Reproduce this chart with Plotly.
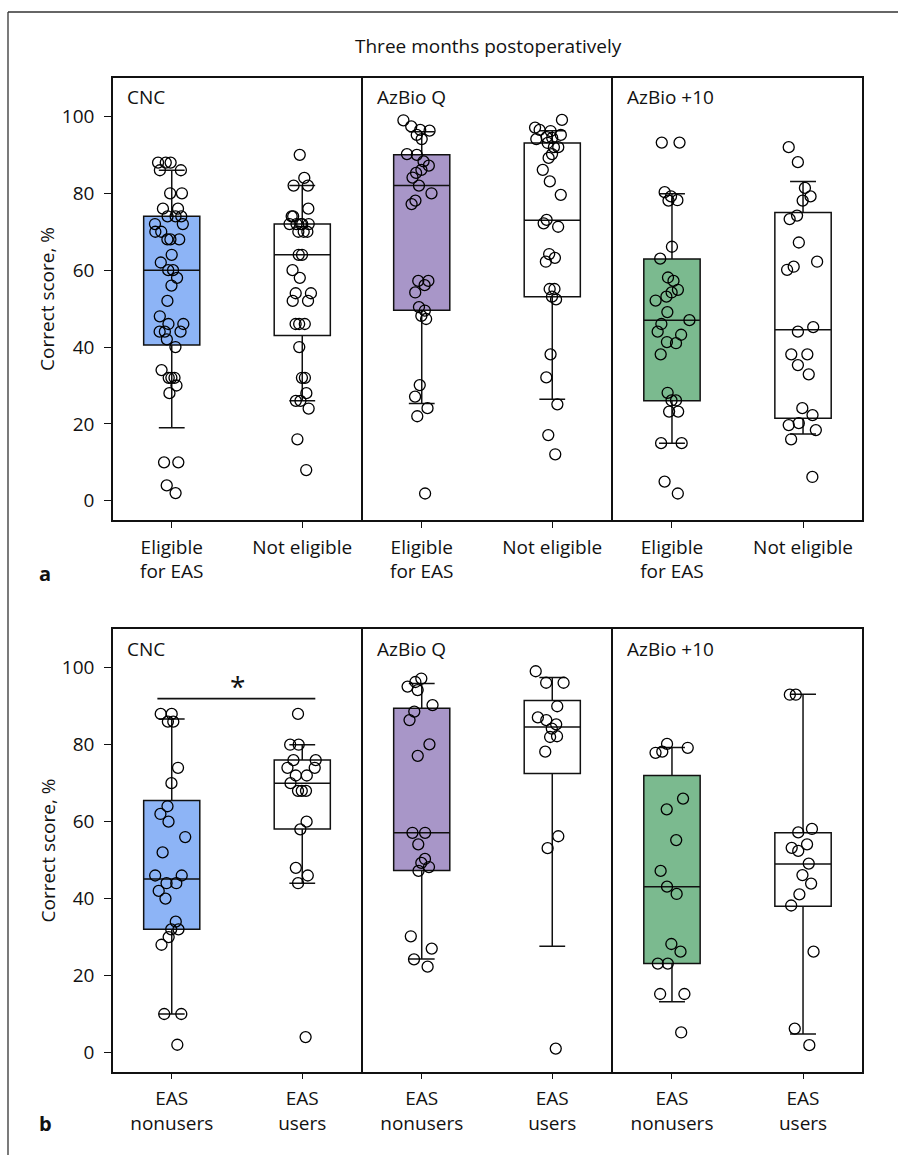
import plotly.graph_objects as go
from plotly.subplots import make_subplots

# ---------------- data ----------------
TITLE = "Three months postoperatively"
TESTS = ["CNC", "AzBio Q", "AzBio +10"]
CATS_A = ["Eligible<br>for EAS", "Not eligible"]
CATS_B = ["EAS<br>nonusers", "EAS<br>users"]
Y_TICKS = [0, 20, 40, 60, 80, 100]
Y_TITLE = "Correct score, %"
FILLS = ["#8DB4F6", "#A896C8", "#7BBA8F"]

# panel a: individual scores
a_cnc_elig = [88, 88, 88, 86, 86, 80, 80, 76, 76, 74, 74, 74, 72, 72, 70, 70, 68, 68, 68, 64,
              62, 60, 60, 58, 56, 52, 48, 46, 46, 44, 44, 42, 44, 40, 34, 32, 32, 32, 30, 28,
              10, 10, 4, 2]
a_cnc_not = [90, 84, 82, 82, 76, 74, 74, 72, 72, 72, 72, 72, 70, 70, 70, 64, 64, 60, 58, 54,
             54, 52, 52, 46, 46, 46, 40, 32, 32, 28, 26, 26, 24, 16, 8]
a_azq_elig = [99.0, 97.4, 96.5, 95.2, 96.3, 94.1, 90.2, 90.0, 88.3, 87.2, 86.1, 85.3, 84.1, 82.0,
              80.0, 77.2, 78.1, 56.1, 57.2, 57.2, 54.2, 50.4, 49.5, 48.1, 47.3, 30.1, 27.1, 24.1,
              22.0, 1.9]
a_azq_not = [99.1, 97.1, 96.5, 96.2, 95.2, 94.4, 94.6, 94.1, 92.0, 92.0, 93.1, 90.2, 89.2, 86.1,
             83.1, 79.6, 73.1, 72.2, 71.3, 64.2, 63.2, 62.2, 55.1, 55.1, 53.1, 52.4, 38.1, 32.1,
             25.1, 17.1, 12.1]
a_az10_elig = [93.2, 93.2, 79.2, 78.2, 80.3, 78.1, 66.1, 63.0, 58.1, 57.2, 54.9, 54.2, 53.1, 52.1,
               49.1, 47.0, 46.0, 43.2, 44.0, 41.3, 41.0, 38.1, 28.1, 26.1, 26.1, 23.2, 23.2, 15.0,
               15.0, 5.0, 1.9]
a_az10_not = [92.0, 88.1, 81.4, 79.2, 78.1, 74.2, 73.3, 67.2, 62.2, 60.9, 60.1, 45.2, 44.0, 38.1,
              38.1, 35.3, 32.9, 24.1, 22.3, 20.2, 19.7, 18.4, 16.0, 6.2]

# panel b: individual scores
b_cnc_non = [88, 88, 86, 86, 74, 70, 64, 62, 60, 56, 52, 46, 46, 44, 44, 42, 40, 34, 32, 32,
             30, 28, 10, 10, 2]
b_cnc_users = [88, 80, 80, 76, 76, 74, 74, 72, 72, 70, 68, 68, 68, 60, 58, 48, 46, 44, 4]
b_azq_non = [97.2, 95.1, 96.3, 94.2, 90.3, 88.6, 86.4, 80.1, 77.1, 57.1, 57.1, 54.1, 50.3, 49.3,
             48.2, 47.2, 30.2, 27.0, 24.2, 22.3]
b_azq_users = [99.1, 96.1, 96.1, 90.0, 87.1, 86.4, 85.3, 84.2, 82.2, 82.0, 78.2, 56.2, 53.1, 1.0]
b_az10_non = [79.2, 78.2, 80.2, 77.9, 66.0, 63.2, 55.2, 47.2, 43.1, 41.2, 28.2, 26.2, 23.1, 23.1,
              15.2, 15.2, 5.2]
b_az10_users = [93.0, 93.0, 58.1, 57.2, 54.1, 53.2, 52.4, 49.1, 46.1, 43.9, 41.1, 38.2, 26.2, 6.2, 1.9]

# box statistics: [lower whisker, q1, median, q3, upper whisker]
a_cnc_elig_stats = [19, 40.5, 60, 74, 86]
a_cnc_not_stats = [26, 43, 64, 72, 82]
a_azq_elig_stats = [25.3, 49.6, 82, 90, 96]
a_azq_not_stats = [26.4, 53.1, 73, 93.1, 96.3]
a_az10_elig_stats = [15, 26, 47, 62.9, 79.9]
a_az10_not_stats = [17.4, 21.5, 44.5, 75, 83.1]
b_cnc_non_stats = [10, 32, 45.1, 65.5, 86.7]
b_cnc_users_stats = [44, 58.1, 70, 76, 80]
b_azq_non_stats = [24.3, 47.3, 57.1, 89.5, 95.9]
b_azq_users_stats = [27.6, 72.5, 84.6, 91.5, 97.5]
b_az10_non_stats = [13.2, 23.1, 43.1, 72, 79.3]
b_az10_users_stats = [4.8, 38, 49, 57.1, 93.1]

SIG_LEVEL = 92      # y-value of the significance bar in panel b, CNC
SIG_TEXT = "*"

# ---------------- figure ----------------
W, H = 898, 1155
FONT = "Open Sans"
FS = 19
TXT = "#111111"
LINE = "#111111"

fig = make_subplots(rows=2, cols=3)

panels = [
    (1, CATS_A, [(a_cnc_elig, a_cnc_elig_stats, a_cnc_not, a_cnc_not_stats),
                 (a_azq_elig, a_azq_elig_stats, a_azq_not, a_azq_not_stats),
                 (a_az10_elig, a_az10_elig_stats, a_az10_not, a_az10_not_stats)]),
    (2, CATS_B, [(b_cnc_non, b_cnc_non_stats, b_cnc_users, b_cnc_users_stats),
                 (b_azq_non, b_azq_non_stats, b_azq_users, b_azq_users_stats),
                 (b_az10_non, b_az10_non_stats, b_az10_users, b_az10_users_stats)]),
]

def add_box(row, col, cat, pts, st, fill):
    fig.add_trace(go.Box(
        x=[cat], y=[pts],
        lowerfence=[st[0]], q1=[st[1]], median=[st[2]], q3=[st[3]], upperfence=[st[4]],
        fillcolor=fill,
        line=dict(color=LINE, width=1.5),
        width=0.43, whiskerwidth=0.46,
        boxpoints="all", jitter=0.7, pointpos=0,
        marker=dict(symbol="circle-open", size=11, color="black",
                    line=dict(width=1.3, color="black")),
        hoverinfo="skip", showlegend=False,
    ), row=row, col=col)

for row, cats, groups in panels:
    for col, (p1, s1, p2, s2) in enumerate(groups, start=1):
        add_box(row, col, cats[0], p1, s1, FILLS[col - 1])
        add_box(row, col, cats[1], p2, s2, "white")

# domains in pixels
XDOM = [(113, 361), (363, 611), (613, 862)]
YDOM = [(78, 520), (629.3, 1071.7)]

for row in (1, 2):
    cats = CATS_A if row == 1 else CATS_B
    for col in (1, 2, 3):
        i = (row - 1) * 3 + col
        xs = "xaxis" if i == 1 else f"xaxis{i}"
        ys = "yaxis" if i == 1 else f"yaxis{i}"
        x0, x1 = XDOM[col - 1]
        yt, yb = YDOM[row - 1]
        fig.layout[xs].update(
            domain=[x0 / W, x1 / W], type="category", categoryorder="array",
            categoryarray=cats, range=[-0.45, 1.45],
            showline=True, mirror=True, linecolor=LINE, linewidth=1.5,
            ticks="outside", ticklen=6, tickwidth=1.3, tickcolor=LINE,
            ticklabelstandoff=3,
            tickfont=dict(family=FONT, size=FS, color=TXT),
            showgrid=False, zeroline=False, fixedrange=True,
        )
        fig.layout[ys].update(
            domain=[1 - yb / H, 1 - yt / H], range=[-5, 110],
            showline=True, mirror=True, linecolor=LINE, linewidth=1.5,
            showgrid=False, zeroline=False, fixedrange=True,
            tickvals=Y_TICKS,
            ticks="outside" if col == 1 else "", ticklen=7, tickwidth=1.3, tickcolor=LINE,
            ticklabelstandoff=6,
            showticklabels=(col == 1),
            tickfont=dict(family=FONT, size=FS, color=TXT),
        )
        # test label in the top-left corner
        fig.add_annotation(
            text=TESTS[col - 1], xref=f"{'x' if i == 1 else 'x' + str(i)} domain",
            yref=f"{'y' if i == 1 else 'y' + str(i)} domain",
            x=0.05, y=0.99, xanchor="left", yanchor="top", showarrow=False,
            font=dict(family=FONT, size=FS, color=TXT),
        )

# y-axis titles
for yc in (299, 850.5):
    fig.add_annotation(text=Y_TITLE, xref="paper", yref="paper",
                       x=47 / W, y=1 - yc / H, xanchor="center", yanchor="middle",
                       textangle=-90, showarrow=False,
                       font=dict(family=FONT, size=FS, color=TXT))

# panel letters
for letter, yc in (("a", 573), ("b", 1123)):
    fig.add_annotation(text=f"<b>{letter}</b>", xref="paper", yref="paper",
                       x=45 / W, y=1 - yc / H, xanchor="center", yanchor="middle",
                       showarrow=False,
                       font=dict(family=FONT, size=20, color=TXT))

# title
fig.add_annotation(text=TITLE, xref="paper", yref="paper", x=488 / W, y=1 - 46 / H,
                   xanchor="center", yanchor="middle",
                   showarrow=False, font=dict(family=FONT, size=FS, color=TXT))

# significance bar, panel b CNC
fig.add_shape(type="line", xref="x4", yref="y4", x0=-0.11, x1=1.1,
              y0=SIG_LEVEL, y1=SIG_LEVEL, line=dict(color=LINE, width=1.8))
fig.add_annotation(text=SIG_TEXT, xref="x4", yref="y4", x=0.5, y=SIG_LEVEL,
                   yanchor="bottom", showarrow=False, yshift=-8,
                   font=dict(family=FONT, size=28, color=TXT))

# outer frame (top + left edges)
fig.add_shape(type="line", xref="paper", yref="paper", x0=8 / W, x1=1.0,
              y0=1 - 12 / H, y1=1 - 12 / H, line=dict(color="#333", width=1.3))
fig.add_shape(type="line", xref="paper", yref="paper", x0=8 / W, x1=8 / W,
              y0=0, y1=1 - 12 / H, line=dict(color="#333", width=1.3))

fig.update_layout(
    width=W, height=H, margin=dict(l=0, r=0, t=0, b=0),
    paper_bgcolor="white", plot_bgcolor="white", showlegend=False,
    font=dict(family=FONT, color=TXT),
)

fig.write_html("out.html")
